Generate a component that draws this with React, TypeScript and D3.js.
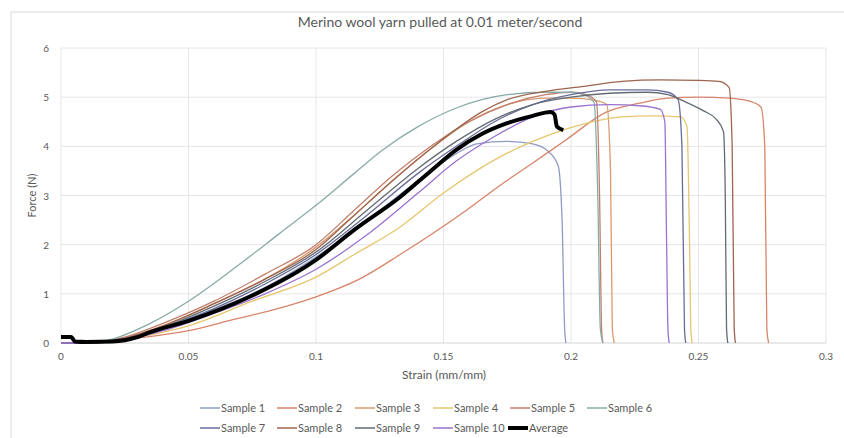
import * as d3 from "d3";
import { useEffect, useRef } from "react";

const title = "Merino wool yarn pulled at 0.01 meter/second";
const xTicks = [0, 0.05, 0.1, 0.15, 0.2, 0.25, 0.3];
const yTicks = [0, 1, 2, 3, 4, 5, 6];

const seriesNames = [
  "Sample 1", "Sample 2", "Sample 3", "Sample 4", "Sample 5",
  "Sample 6", "Sample 7", "Sample 8", "Sample 9", "Sample 10", "Average",
];
const seriesColors = [
  "#8f9bc4", "#d8846a", "#d99a6c", "#e6c66e", "#c27f6c",
  "#88aba7", "#676c9a", "#9e644f", "#626b74", "#9a72d0", "#000000",
];

// [strain, force]
const sample1 = [[0, 0], [0.01, 0], [0.02, 0.05], [0.035, 0.25], [0.05, 0.5], [0.075, 1.0], [0.1, 1.75], [0.12, 2.5], [0.14, 3.3], [0.155, 3.85], [0.163, 4.05], [0.175, 4.1], [0.185, 4.05], [0.191, 3.9], [0.195, 3.6], [0.1965, 2.5], [0.1975, 0.3], [0.198, 0]];
const sample2 = [[0, 0], [0.012, 0], [0.03, 0.1], [0.05, 0.25], [0.067, 0.47], [0.085, 0.7], [0.1, 0.94], [0.117, 1.3], [0.133, 1.8], [0.145, 2.2], [0.159, 2.7], [0.172, 3.2], [0.185, 3.66], [0.198, 4.13], [0.214, 4.7], [0.227, 4.88], [0.238, 4.98], [0.25, 5.0], [0.262, 4.98], [0.27, 4.92], [0.2745, 4.8], [0.276, 4.0], [0.2768, 0.3], [0.2775, 0]];
const sample3 = [[0, 0], [0.01, 0], [0.025, 0.1], [0.04, 0.35], [0.06, 0.8], [0.08, 1.3], [0.1, 1.95], [0.115, 2.6], [0.13, 3.3], [0.145, 3.95], [0.16, 4.5], [0.175, 4.85], [0.19, 4.98], [0.2, 4.98], [0.21, 4.93], [0.214, 4.85], [0.2155, 3.5], [0.2162, 0.3], [0.217, 0]];
const sample4 = [[0, 0], [0.012, 0], [0.03, 0.12], [0.05, 0.35], [0.075, 0.85], [0.1, 1.34], [0.115, 1.8], [0.133, 2.36], [0.15, 3.05], [0.172, 3.78], [0.185, 4.1], [0.198, 4.35], [0.21, 4.52], [0.22, 4.6], [0.232, 4.62], [0.243, 4.6], [0.2455, 4.4], [0.2465, 2], [0.247, 0.3], [0.2475, 0]];
const sample5 = [[0, 0], [0.01, 0], [0.025, 0.12], [0.04, 0.4], [0.06, 0.85], [0.08, 1.4], [0.1, 2.0], [0.115, 2.7], [0.13, 3.4], [0.145, 4.0], [0.16, 4.5], [0.175, 4.85], [0.19, 5.05], [0.2, 5.1], [0.206, 5.05], [0.21, 4.9], [0.2112, 3], [0.212, 0.3], [0.2125, 0]];
const sample6 = [[0, 0], [0.01, 0], [0.02, 0.08], [0.035, 0.4], [0.05, 0.85], [0.07, 1.6], [0.086, 2.24], [0.1, 2.8], [0.115, 3.45], [0.126, 3.92], [0.14, 4.4], [0.155, 4.78], [0.165, 4.95], [0.175, 5.05], [0.19, 5.1], [0.2, 5.1], [0.205, 5.05], [0.209, 4.9], [0.2105, 3], [0.2115, 0.3], [0.2125, 0]];
const sample7 = [[0, 0], [0.01, 0], [0.025, 0.08], [0.04, 0.3], [0.06, 0.7], [0.08, 1.2], [0.1, 1.8], [0.12, 2.6], [0.14, 3.45], [0.155, 4.0], [0.17, 4.5], [0.185, 4.85], [0.2, 5.05], [0.215, 5.15], [0.23, 5.15], [0.238, 5.1], [0.242, 4.95], [0.2435, 4], [0.2445, 0.3], [0.245, 0]];
const sample8 = [[0, 0], [0.01, 0], [0.025, 0.1], [0.04, 0.35], [0.06, 0.8], [0.08, 1.3], [0.1, 1.9], [0.115, 2.6], [0.13, 3.3], [0.145, 3.95], [0.155, 4.35], [0.165, 4.7], [0.175, 4.95], [0.19, 5.12], [0.205, 5.22], [0.22, 5.32], [0.235, 5.35], [0.25, 5.34], [0.258, 5.32], [0.262, 5.2], [0.2632, 4], [0.264, 0.3], [0.2645, 0]];
const sample9 = [[0, 0], [0.01, 0], [0.025, 0.08], [0.04, 0.32], [0.06, 0.75], [0.08, 1.25], [0.1, 1.85], [0.12, 2.7], [0.14, 3.55], [0.155, 4.1], [0.17, 4.55], [0.185, 4.85], [0.2, 5.0], [0.215, 5.08], [0.23, 5.1], [0.238, 5.05], [0.245, 4.9], [0.252, 4.72], [0.257, 4.55], [0.2598, 4.3], [0.2605, 3], [0.261, 0.3], [0.2615, 0]];
const sample10 = [[0, 0], [0.01, 0], [0.025, 0.06], [0.04, 0.25], [0.06, 0.6], [0.08, 1.0], [0.1, 1.5], [0.12, 2.2], [0.14, 3.05], [0.155, 3.7], [0.17, 4.2], [0.185, 4.6], [0.2, 4.8], [0.215, 4.85], [0.228, 4.82], [0.235, 4.75], [0.2368, 4.5], [0.2375, 2], [0.238, 0.3], [0.2385, 0]];
const average = [[0, 0.12], [0.004, 0.12], [0.0055, 0.03], [0.01, 0.02], [0.02, 0.03], [0.03, 0.12], [0.035, 0.22], [0.05, 0.45], [0.074, 0.94], [0.1, 1.69], [0.115, 2.3], [0.133, 2.97], [0.145, 3.5], [0.155, 3.93], [0.165, 4.25], [0.175, 4.47], [0.185, 4.62], [0.192, 4.7], [0.1935, 4.65], [0.1945, 4.4], [0.197, 4.33]];

const seriesData = [sample1, sample2, sample3, sample4, sample5, sample6, sample7, sample8, sample9, sample10, average];

const W = 844;
const H = 438;

const App = () => {
  const svgRef = useRef<SVGSVGElement>(null);

  useEffect(() => {
    const svg = d3.select(svgRef.current);
    svg.selectAll("*").remove();

    const font = "Lato, 'Open Sans', sans-serif";
    const margin = { left: 61, right: 18, top: 48, bottom: 95 };
    const x = d3.scaleLinear().domain([0, 0.3]).range([margin.left, W - margin.right]);
    const y = d3.scaleLinear().domain([0, 6]).range([H - margin.bottom, margin.top]);

    svg.append("rect").attr("width", W).attr("height", H).attr("fill", "white");
    // chart frame
    svg.append("rect")
      .attr("x", 11).attr("y", 12).attr("width", W).attr("height", H)
      .attr("fill", "none").attr("stroke", "#dcdcdc");

    svg.append("text")
      .attr("x", 440).attr("y", 27)
      .attr("text-anchor", "middle")
      .attr("font-family", font).attr("font-size", 14)
      .attr("fill", "#595959")
      .text(title);

    // gridlines
    svg.append("g").selectAll("line.h").data(yTicks.slice(1)).join("line")
      .attr("x1", x(0)).attr("x2", x(0.3))
      .attr("y1", (d) => y(d)).attr("y2", (d) => y(d))
      .attr("stroke", "#e6e6e6");
    svg.append("g").selectAll("line.v").data(xTicks).join("line")
      .attr("x1", (d) => x(d)).attr("x2", (d) => x(d))
      .attr("y1", y(0)).attr("y2", y(6))
      .attr("stroke", "#e6e6e6");
    svg.append("line")
      .attr("x1", x(0)).attr("x2", x(0.3))
      .attr("y1", y(0)).attr("y2", y(0))
      .attr("stroke", "#d4d4d4");

    // tick labels
    svg.append("g").selectAll("text").data(yTicks).join("text")
      .attr("x", x(0) - 12).attr("y", (d) => y(d) + 4)
      .attr("text-anchor", "end")
      .attr("font-family", font).attr("font-size", 10).attr("fill", "#595959")
      .text((d) => d3.format("~g")(d));
    svg.append("g").selectAll("text").data(xTicks).join("text")
      .attr("x", (d) => x(d)).attr("y", y(0) + 17)
      .attr("text-anchor", "middle")
      .attr("font-family", font).attr("font-size", 10).attr("fill", "#595959")
      .text((d) => d3.format("~g")(d));

    // axis titles
    svg.append("text")
      .attr("transform", `translate(36,${(y(0) + y(6)) / 2}) rotate(-90)`)
      .attr("text-anchor", "middle")
      .attr("font-family", font).attr("font-size", 11).attr("fill", "#595959")
      .text("Force (N)");
    svg.append("text")
      .attr("x", 444).attr("y", 379)
      .attr("text-anchor", "middle")
      .attr("font-family", font).attr("font-size", 12).attr("fill", "#595959")
      .text("Strain (mm/mm)");

    // series
    const line = d3.line<number[]>()
      .x((d) => x(d[0]))
      .y((d) => y(d[1]))
      .curve(d3.curveMonotoneX);

    seriesData.forEach((pts, i) => {
      svg.append("path")
        .datum(pts)
        .attr("d", line)
        .attr("fill", "none")
        .attr("stroke", seriesColors[i])
        .attr("stroke-width", i === 10 ? 4 : 1.3)
        .attr("stroke-linejoin", "round");
    });

    // legend
    const rowY = [408, 428];
    const colX = [200, 277, 355, 433, 510, 587];
    seriesNames.forEach((name, i) => {
      const row = i < 6 ? 0 : 1;
      const col = i < 6 ? i : i - 6;
      const lx = i === 10 ? 508 : colX[col];
      const g = svg.append("g").attr("transform", `translate(${lx},${rowY[row]})`);
      g.append("line")
        .attr("x1", 0).attr("x2", 20).attr("y1", 0).attr("y2", 0)
        .attr("stroke", seriesColors[i])
        .attr("stroke-width", i === 10 ? 4 : 1.5);
      g.append("text")
        .attr("x", 21).attr("y", 4)
        .attr("font-family", font).attr("font-size", 11).attr("fill", "#595959")
        .text(name);
    });
  }, []);

  return (
    <svg
      ref={svgRef}
      width={W}
      height={H}
      style={{ position: "absolute", left: 0, top: 0 }}
    />
  );
};

export default App;
